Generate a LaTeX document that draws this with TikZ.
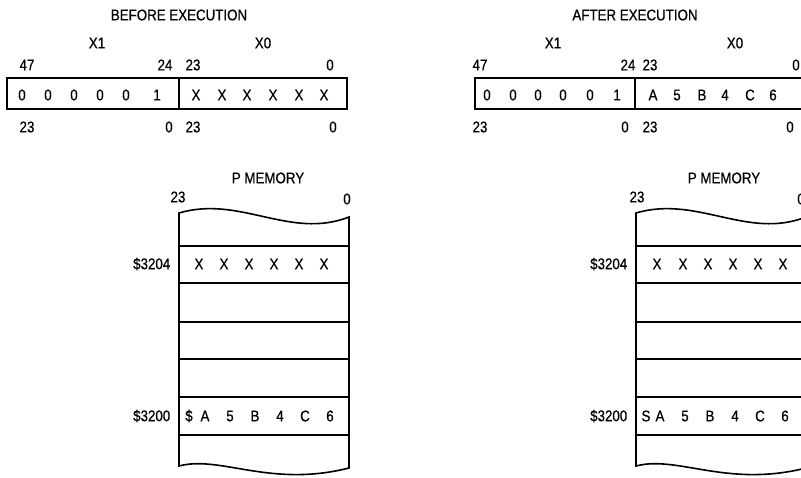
\documentclass[tikz,border=0pt]{standalone}
\usepackage{fontspec}
\setmainfont{Liberation Sans}[FakeStretch=0.86,FakeBold=0.6]
\begin{document}
\begin{tikzpicture}[x=1pt,y=-1pt,line width=1.5pt,
  lbl/.style={inner sep=0pt,font=\fontsize{15.5}{17}\selectfont},
  frame/.style={draw,line width=1.6pt}]
\useasboundingbox (0,0) rectangle (801,477);

% ---------------- BEFORE EXECUTION ----------------
\node[lbl] (tL) at (179,15) {BEFORE EXECUTION};
\node[lbl] (x1L) at (97,43) {X1};
\node[lbl] (x0L) at (263,43) {X0};
\node[lbl] (n47L) at (27,65) {47};
\node[lbl] (n24L) at (165,65) {24};
\node[lbl] (n23aL) at (193,65) {23};
\node[lbl] (n0aL) at (330,65) {0};
\draw[frame] (7,78) rectangle (347,109);
\draw[frame] (179,78) -- (179,109);
\foreach \x/\t [count=\i] in {22/0,48/0,74/0,100/0,126/0,157/1}
  \node[lbl] (rL\i) at (\x,95) {\t};
\foreach \x [count=\i] in {196,222,247,273,299,324}
  \node[lbl] (sL\i) at (\x,95) {X};
\node[lbl] (n23bL) at (27,127) {23};
\node[lbl] (n0bL) at (169,127) {0};
\node[lbl] (n23cL) at (193,127) {23};
\node[lbl] (n0cL) at (333,127) {0};

\node[lbl] (pmL) at (268,178) {P MEMORY};
\node[lbl] (m23L) at (178,197) {23};
\node[lbl] (m0L) at (347,199) {0};
\draw[frame] (179,213) .. controls (240,195) and (290,240) .. (349,217)
  -- (349,468) .. controls (270,488) and (220,455) .. (179,466) -- cycle;
\foreach \y in {246,283,322,359,397,435}
  \draw[frame] (179,\y) -- (349,\y);
\node[lbl,anchor=east] (a3204L) at (171,264) {\$3204};
\foreach \x [count=\i] in {199,224,249,274,299,324}
  \node[lbl] (mxL\i) at (\x,264) {X};
\node[lbl,anchor=east] (a3200L) at (171,416) {\$3200};
\foreach \x/\t [count=\i] in {189/\$,205/A,230/5,255/B,280/4,305/C,330/6}
  \node[lbl] (mvL\i) at (\x,416) {\t};

% ---------------- AFTER EXECUTION ----------------
\node[lbl] (tR) at (635,15) {AFTER EXECUTION};
\node[lbl] (x1R) at (553,43) {X1};
\node[lbl] (x0R) at (735,43) {X0};
\node[lbl] (n47R) at (480,65) {47};
\node[lbl] (n24R) at (628,65) {24};
\node[lbl] (n23aR) at (650,65) {23};
\node[lbl] (n0aR) at (796,65) {0};
\draw[frame] (475,78) rectangle (815,109);
\draw[frame] (635,78) -- (635,109);
\foreach \x/\t [count=\i] in {487/0,513/0,538/0,563/0,590/0,617/1}
  \node[lbl] (rR\i) at (\x,95) {\t};
\foreach \x/\t [count=\i] in {653/A,677/5,702/B,725/4,750/C,773/6}
  \node[lbl] (sR\i) at (\x,95) {\t};
\node[lbl] (n23bR) at (480,127) {23};
\node[lbl] (n0bR) at (625,127) {0};
\node[lbl] (n23cR) at (650,127) {23};
\node[lbl] (n0cR) at (790,127) {0};

\node[lbl] (pmR) at (724,178) {P MEMORY};
\node[lbl] (m23R) at (637,197) {23};
\node[lbl] (m0R) at (801,199) {0};
\begin{scope}[xshift=457pt]
\draw[frame] (179,213) .. controls (240,195) and (290,240) .. (349,217)
  -- (349,468) .. controls (270,488) and (220,455) .. (179,466) -- cycle;
\foreach \y in {246,283,322,359,397,435}
  \draw[frame] (179,\y) -- (349,\y);
\end{scope}
\node[lbl,anchor=east] (a3204R) at (628,264) {\$3204};
\foreach \x [count=\i] in {657,683,708,733,758,783}
  \node[lbl] (mxR\i) at (\x,264) {X};
\node[lbl,anchor=east] (a3200R) at (628,416) {\$3200};
\foreach \x/\t [count=\i] in {646/S,660/A,685/5,710/B,735/4,760/C,785/6}
  \node[lbl] (mvR\i) at (\x,416) {\t};
\end{tikzpicture}
\end{document}
